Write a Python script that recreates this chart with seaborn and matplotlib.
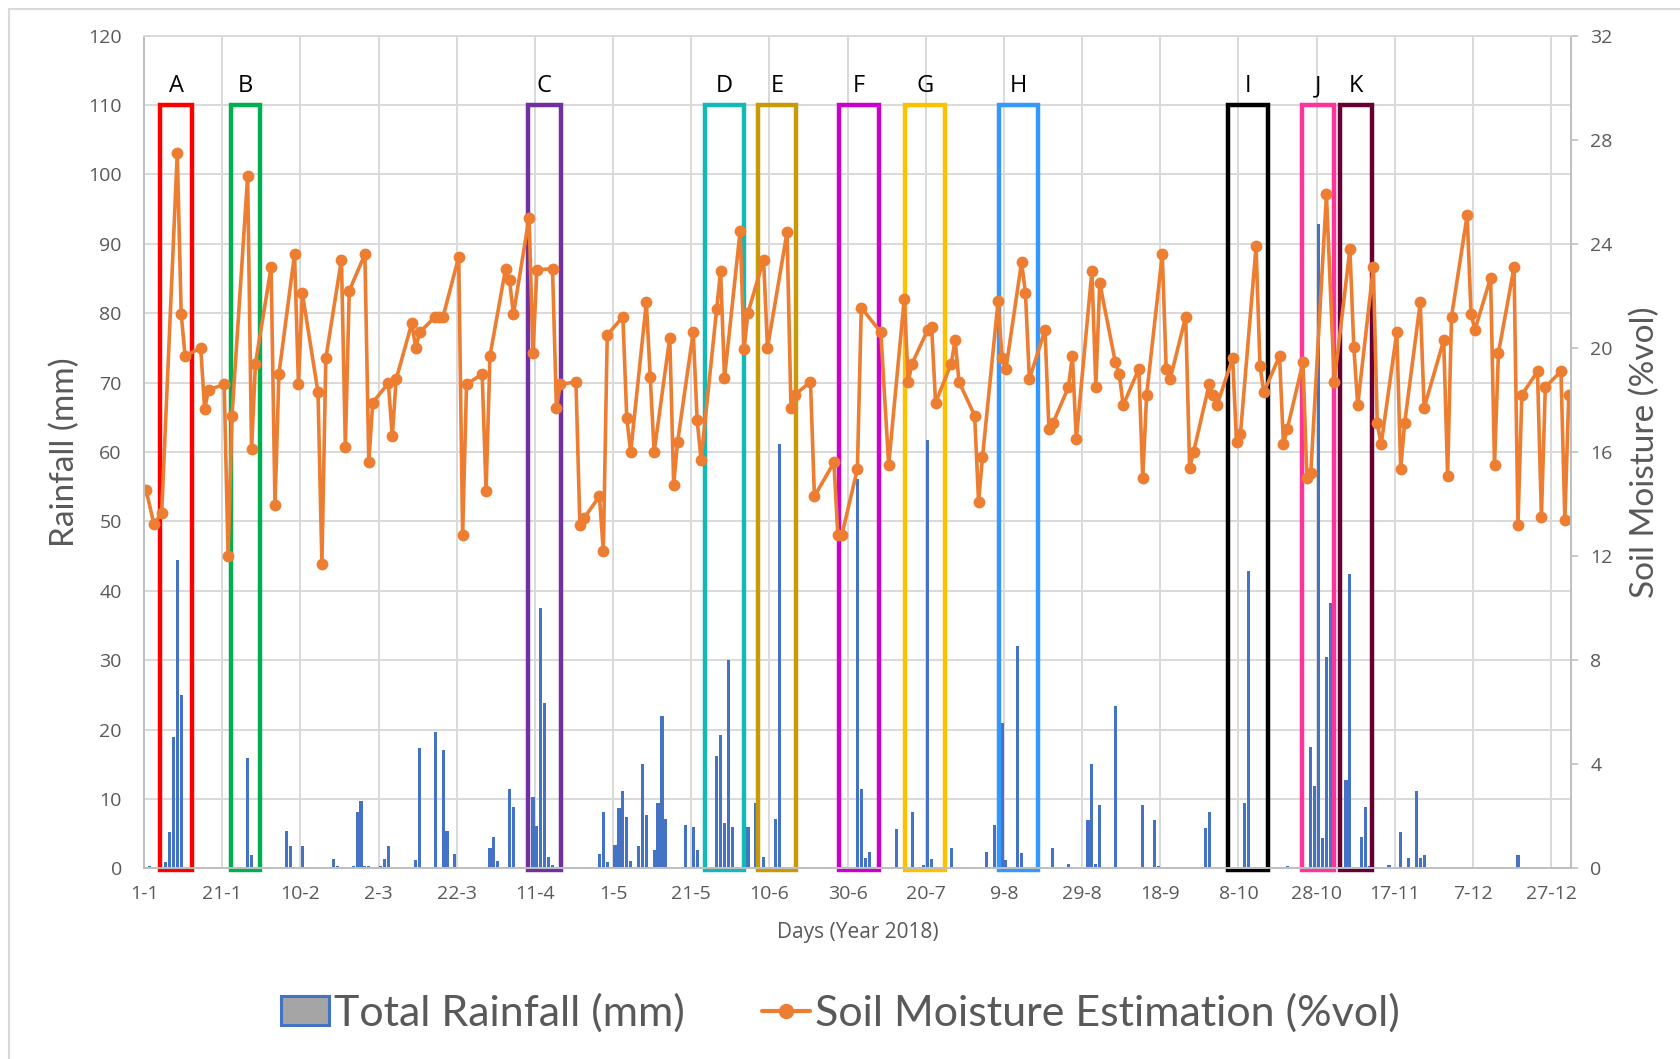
import numpy as np
import pandas as pd
import seaborn as sns
import matplotlib
matplotlib.use("Agg")
from matplotlib import pyplot as plt
from matplotlib.patches import Rectangle, Patch
from matplotlib.lines import Line2D

# daily rainfall (day index from 1 Jan, mm)
rain_day = [1, 5, 6, 7, 8, 9, 20, 26, 27, 36, 37, 40, 41, 48, 49, 53, 54, 55, 56, 57, 58,
            60, 61, 62, 69, 70, 74, 76, 77, 79, 88, 89, 90, 93, 94,
            99, 100, 101, 102, 103, 104, 116, 117, 118, 120, 121, 122, 123, 124,
            126, 127, 128, 129, 130, 131, 132, 133, 136, 138, 140, 141,
            146, 147, 148, 149, 150, 154, 156, 158, 161, 162,
            182, 183, 184, 185, 192, 194, 196, 199, 200, 201, 206, 208, 213,
            215, 217, 218, 219, 220, 223, 224, 225, 232, 236,
            241, 242, 243, 244, 248, 249, 253, 255, 258, 259, 271, 272, 281, 282, 292,
            298, 299, 300, 301, 302, 303, 304, 307, 308, 311, 312, 313,
            317, 318, 321, 323, 325, 326, 327, 351, 363]
rain_mm = [0.3, 1.0, 5.3, 18.9, 44.4, 25.0, 0.2, 15.9, 2.0, 5.4, 3.2, 3.2, 0.2, 1.3, 0.3, 0.3, 8.2, 9.7, 0.4, 0.3, 0.2,
           0.3, 1.4, 3.2, 1.2, 17.3, 19.7, 17.1, 5.4, 2.1, 3.0, 4.6, 1.1, 11.5, 8.8,
           10.3, 6.1, 37.5, 23.9, 1.6, 0.5, 2.1, 8.1, 1.0, 3.4, 8.7, 11.2, 7.4, 1.1,
           3.2, 15.0, 7.7, 0.2, 2.6, 9.5, 22.0, 7.1, 0.2, 6.3, 6.0, 2.6,
           16.2, 19.3, 6.5, 30.1, 6.0, 6.0, 9.5, 1.6, 7.2, 61.2,
           56.1, 11.5, 1.5, 2.4, 5.7, 1.8, 8.1, 0.5, 61.8, 1.3, 2.9, 0.2, 0.2,
           2.4, 6.2, 22.0, 20.9, 1.2, 32.1, 2.3, 0.2, 2.9, 0.6,
           7.0, 15.0, 0.6, 9.2, 23.4, 0.2, 0.2, 9.2, 7.0, 0.3, 5.8, 8.2, 9.5, 42.8, 0.3,
           17.5, 11.9, 92.9, 4.4, 30.5, 38.2, 6.5, 12.7, 42.4, 4.6, 8.8, 0.3,
           0.2, 0.5, 5.3, 1.5, 11.2, 1.5, 1.9, 1.9, 0.2]

# soil moisture estimation (day index, %vol)
sm_day = [0, 2, 4, 8, 9, 10, 14, 15, 16, 20, 21, 22, 26, 27, 28, 32, 33, 34, 38, 39, 40,
          44, 45, 46, 50, 51, 52, 56, 57, 58, 62, 63, 64, 68, 69, 70, 74, 75, 76,
          80, 81, 82, 86, 87, 88, 92, 93, 94, 98, 99, 100, 104, 105, 106,
          110, 111, 112, 116, 117, 118, 122, 123, 124, 128, 129, 130, 134, 135, 136,
          140, 141, 142, 146, 147, 148, 152, 153, 154, 158, 159, 164, 165, 166,
          170, 171, 176, 177, 178, 182, 183, 188, 190, 194, 195, 196, 200, 201, 202,
          206, 207, 208, 212, 213, 214, 218, 219, 220, 224, 225, 226, 230, 231, 232,
          236, 237, 238, 242, 243, 244, 248, 249, 250, 254, 255, 256, 260, 261, 262,
          266, 267, 268, 272, 273, 274, 278, 279, 280, 284, 285, 286, 290, 291, 292,
          296, 297, 298, 302, 304, 308, 309, 310, 314, 315, 316, 320, 321, 322,
          326, 327, 332, 333, 334, 338, 339, 340, 344, 345, 346, 350, 351, 352,
          356, 357, 358, 362, 363, 364]
sm_vol = [14.55, 13.25, 13.65, 27.5, 21.3, 19.7, 20.0, 17.65, 18.4, 18.6, 12.0, 17.4,
          26.6, 16.1, 19.4, 23.1, 13.95, 19.0, 23.6, 18.6, 22.1,
          18.3, 11.7, 19.6, 23.4, 16.2, 22.2, 23.6, 15.6, 17.9, 18.65, 16.6, 18.8,
          20.95, 20.0, 20.6, 21.2, 21.2, 21.2,
          23.5, 12.8, 18.6, 19.0, 14.5, 19.7, 23.05, 22.6, 21.3, 25.0, 19.8, 23.0,
          23.05, 17.7, 18.6, 18.7, 13.2, 13.45, 14.3, 12.2, 20.5, 21.2, 17.3, 16.0,
          21.75, 18.9, 16.0, 20.4, 14.75, 16.4,
          20.6, 17.25, 15.7, 21.5, 22.95, 18.85, 24.5, 19.95, 21.35, 23.4, 20.0,
          24.45, 17.7, 18.2,
          18.7, 14.3, 15.6, 12.8, 12.8, 15.35, 21.55, 20.6, 15.5, 21.9, 18.7, 19.4,
          20.7, 20.8, 17.9,
          19.4, 20.3, 18.7, 17.4, 14.1, 15.8, 21.8, 19.6, 19.2, 23.3, 22.1, 18.8,
          20.7, 16.9, 17.1,
          18.5, 19.7, 16.5, 22.95, 18.5, 22.5, 19.45, 19.0, 17.8, 19.2, 15.0, 18.2,
          23.6, 19.2, 18.8,
          21.2, 15.4, 16.0, 18.6, 18.2, 17.8, 19.6, 16.4, 16.7, 23.9, 19.3, 18.3,
          19.7, 16.3, 16.9,
          19.45, 15.0, 15.2, 25.9, 18.7, 23.8, 20.05, 17.8, 23.1, 17.1, 16.3,
          20.6, 15.35, 17.1,
          21.75, 17.7, 20.3, 15.1, 21.2, 25.1, 21.3, 20.7, 22.7, 15.5, 19.8,
          23.1, 13.2, 18.2,
          19.1, 13.5, 18.5, 19.1, 13.4, 18.2]

tick_labels = ["1-1", "21-1", "10-2", "2-3", "22-3", "11-4", "1-5", "21-5", "10-6", "30-6",
               "20-7", "9-8", "29-8", "18-9", "8-10", "28-10", "17-11", "7-12", "27-12"]

# highlighted events
box_names = list("ABCDEFGHIJK")
box_start = [4.1, 22.3, 98.1, 143.4, 157.0, 177.9, 194.7, 218.8, 277.4, 296.3, 306.0]
box_end = [12.3, 29.6, 106.6, 153.5, 166.9, 188.0, 204.8, 228.8, 287.6, 304.5, 314.2]
box_colors = ["#FF0000", "#00B050", "#7030A0", "#12B9B5", "#C99A06", "#CC00CC",
              "#FFC000", "#3399FF", "#000000", "#FF3399", "#660033"]

sns.set_theme(style="white")
plt.rcParams['font.family'] = ['Open Sans', 'DejaVu Sans']
grey = "#595959"

fig = plt.figure(figsize=(16.81, 10.59), dpi=100)
ax = fig.add_axes([0.0857, 0.1799, 0.8487, 0.7864])
ax2 = ax.twinx()

rain = pd.DataFrame({"day": np.array(rain_day) + 0.5, "mm": rain_mm})
sns.barplot(data=rain, x="day", y="mm", native_scale=True, color="#4472C4",
            saturation=1, errorbar=None, width=0.8, linewidth=0, ax=ax, zorder=2)

for name, x0, x1, c in zip(box_names, box_start, box_end, box_colors):
    ax.add_patch(Rectangle((x0, -0.2), x1 - x0, 110.2, fill=False, edgecolor=c,
                           lw=3.2, zorder=3, clip_on=False))
    ax.text((x0 + x1) / 2, 111.0, name, ha="center", va="bottom", fontsize=17,
            color="black", zorder=5)

sm = pd.DataFrame({"day": np.array(sm_day) + 0.5, "vol": sm_vol})
sns.lineplot(data=sm, x="day", y="vol", ax=ax2, color="#ED7D31", lw=2.6, marker="o",
             markersize=8.5, markeredgewidth=0, sort=False, legend=False)

ax.set_xlim(0, 365)
ax.set_ylim(0, 120)
ax2.set_ylim(0, 32)
ax.set_xticks(range(0, 361, 20))
ax.set_xticklabels(tick_labels)
ax.set_yticks(range(0, 121, 10))
ax2.set_yticks(range(0, 33, 4))
ax.set_axisbelow(True)
ax.grid(True, color="#D9D9D9", lw=1.4)
ax2.grid(False)

for a in (ax, ax2):
    for s in a.spines.values():
        s.set_color("#BFBFBF")
        s.set_linewidth(1.4)
    a.spines["top"].set_color("#D9D9D9")

ax.tick_params(axis="y", length=0, pad=16, labelsize=14, labelcolor=grey)
ax.tick_params(axis="x", length=0, pad=12, labelsize=14, labelcolor=grey)
ax2.tick_params(axis="y", length=5, width=1.2, color="#BFBFBF", pad=9,
                labelsize=14, labelcolor=grey)

ax.set_xlabel("Days (Year 2018)", fontsize=15, color=grey)
ax.xaxis.set_label_coords(0.5, -0.064)
ax.set_ylabel("Rainfall (mm)", fontsize=24, color=grey, family=["Lato", "DejaVu Sans"])
ax.yaxis.set_label_coords(-0.045, 0.5)
ax2.set_ylabel("Soil Moisture (%vol)", fontsize=24, color=grey, family=["Lato", "DejaVu Sans"])
ax2.yaxis.set_label_coords(1.041, 0.5)

handles = [Patch(facecolor="#A5A5A5", edgecolor="#4472C4", lw=2.2),
           Line2D([], [], color="#ED7D31", lw=3, marker="o", markersize=10)]
leg = fig.legend(handles, ["Total Rainfall (mm)", "Soil Moisture Estimation (%vol)"],
                 loc="center", bbox_to_anchor=(0.5, 1 - 1013 / 1059), ncol=2, frameon=False,
                 handlelength=1.1, handleheight=0.65, handletextpad=0.12,
                 columnspacing=1.8, prop={"family": ["Lato", "DejaVu Sans"], "size": 31})
for t in leg.get_texts():
    t.set_color(grey)

fig.add_artist(Rectangle((9 / 1681, -0.05), 1.2, 1.05 - 9 / 1059, transform=fig.transFigure,
                         fill=False, edgecolor="#D9D9D9", lw=1.5))

fig.savefig("out.png", dpi=100)
